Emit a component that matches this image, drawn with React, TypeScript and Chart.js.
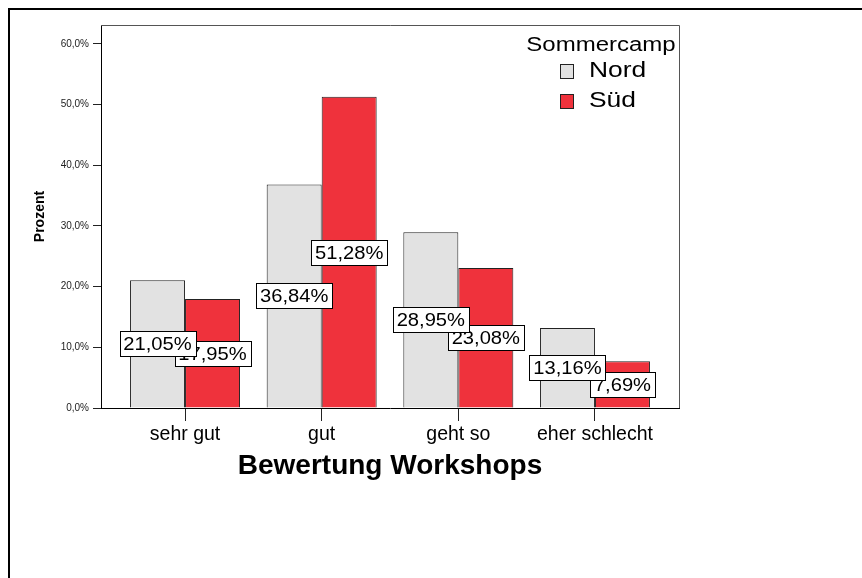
import React, { useEffect, useRef } from "react";
import { Chart, registerables } from "chart.js";

Chart.register(...registerables);

const categories = ["sehr gut", "gut", "geht so", "eher schlecht"];
const seriesNames = ["Nord", "Süd"];
const nordValues = [21.05, 36.84, 28.95, 13.16];
const suedValues = [17.95, 51.28, 23.08, 7.69];
const yTicks = [0, 10, 20, 30, 40, 50, 60];
const legendTitle = "Sommercamp";
const xTitle = "Bewertung Workshops";
const yTitle = "Prozent";

const FONT = '"Liberation Sans", Arial, Helvetica, sans-serif';
const NORD_FILL = "#e2e2e2";
const SUED_FILL = "#ef323c";
const W = 862;
const H = 578;

const fmt = (v: number, d: number) => v.toFixed(d).replace(".", ",") + "%";

const framePlugin = {
  id: "frame",
  beforeDraw(chart: any) {
    const { ctx } = chart;
    ctx.save();
    ctx.fillStyle = "#fff";
    ctx.fillRect(0, 0, chart.width, chart.height);
    ctx.strokeStyle = "#000";
    ctx.lineWidth = 2;
    ctx.beginPath();
    ctx.moveTo(9, chart.height + 10);
    ctx.lineTo(9, 9);
    ctx.lineTo(chart.width + 10, 9);
    ctx.stroke();
    ctx.restore();
  },
  afterDraw(chart: any) {
    const { ctx, chartArea } = chart;
    ctx.save();
    ctx.strokeStyle = "#555";
    ctx.lineWidth = 1;
    ctx.beginPath();
    ctx.moveTo(chartArea.left, Math.round(chartArea.top) + 0.5);
    ctx.lineTo(Math.round(chartArea.right) + 0.5, Math.round(chartArea.top) + 0.5);
    ctx.lineTo(Math.round(chartArea.right) + 0.5, chartArea.bottom);
    ctx.stroke();
    ctx.restore();
  },
};

const LABEL_SX = 1.12;
const labelPlugin = {
  id: "valueLabels",
  afterDatasetsDraw(chart: any) {
    const { ctx } = chart;
    ctx.save();
    ctx.font = `18px ${FONT}`;
    [1, 0].forEach((di) => {
      const meta = chart.getDatasetMeta(di);
      const ds = chart.data.datasets[di];
      meta.data.forEach((bar: any, i: number) => {
        const { x, y, base } = bar.getProps(["x", "y", "base"], true);
        const cy = (y + base) / 2;
        const text = fmt(ds.data[i].y, 2);
        const tw = ctx.measureText(text).width * LABEL_SX;
        const w = Math.round(tw + 8);
        const h = 25;
        const left = Math.round(x - w / 2);
        const top = Math.round(cy - h / 2);
        ctx.fillStyle = "#fff";
        ctx.fillRect(left, top, w, h);
        ctx.strokeStyle = "#000";
        ctx.lineWidth = 1;
        ctx.strokeRect(left + 0.5, top + 0.5, w, h);
        ctx.save();
        ctx.translate(x, cy + 1.5);
        ctx.scale(LABEL_SX, 1);
        ctx.textAlign = "center";
        ctx.textBaseline = "middle";
        ctx.fillStyle = "#000";
        ctx.fillText(text, 0, 0);
        ctx.restore();
      });
    });
    ctx.restore();
  },
};

const LEG_SX = 1.2;
const legendPlugin = {
  id: "customLegend",
  afterDraw(chart: any) {
    const { ctx } = chart;
    ctx.save();
    ctx.fillStyle = "#000";
    ctx.textBaseline = "middle";
    ctx.font = `20px ${FONT}`;
    ctx.save();
    ctx.translate(601, 45.5);
    ctx.scale(LEG_SX, 1);
    ctx.textAlign = "center";
    ctx.fillText(legendTitle, 0, 0);
    ctx.restore();
    ctx.font = `22px ${FONT}`;
    chart.data.datasets.forEach((ds: any, i: number) => {
      const cy = 71 + i * 29.5;
      ctx.fillStyle = ds.backgroundColor;
      ctx.fillRect(560, Math.round(cy - 7), 14, 15);
      ctx.strokeStyle = "#222";
      ctx.lineWidth = 1;
      ctx.strokeRect(560.5, Math.round(cy - 7) + 0.5, 13, 14);
      ctx.save();
      ctx.translate(589, cy);
      ctx.scale(LEG_SX, 1);
      ctx.textAlign = "left";
      ctx.fillStyle = "#000";
      ctx.fillText(ds.label, 0, 0);
      ctx.restore();
    });
    ctx.restore();
  },
};

export default function App() {
  const canvasRef = useRef<HTMLCanvasElement | null>(null);

  useEffect(() => {
    if (!canvasRef.current) return;
    const chart = new Chart(canvasRef.current, {
      type: "bar",
      data: {
        datasets: [
          {
            label: seriesNames[0],
            data: nordValues.map((v, i) => ({ x: i, y: v })),
            backgroundColor: NORD_FILL,
            borderColor: "#222",
            borderWidth: 1,
          },
          {
            label: seriesNames[1],
            data: suedValues.map((v, i) => ({ x: i, y: v })),
            backgroundColor: SUED_FILL,
            borderColor: "#222",
            borderWidth: 1,
          },
        ],
      } as any,
      options: {
        responsive: false,
        animation: false,
        devicePixelRatio: 1,
        layout: { padding: { left: 0, top: 25, right: 183, bottom: 0 } },
        datasets: { bar: { categoryPercentage: 0.805, barPercentage: 1 } } as any,
        plugins: {
          legend: { display: false },
          tooltip: { enabled: false },
        },
        scales: {
          x: {
            type: "linear",
            min: -0.615,
            max: 3.615,
            offset: false,
            grid: {
              offset: false,
              drawOnChartArea: false,
              drawTicks: true,
              tickLength: 13,
              color: "#222",
            },
            border: { display: true, color: "#000", width: 1 },
            ticks: {
              autoSkip: false,
              maxRotation: 0,
              padding: 2,
              color: "#000",
              font: { family: FONT, size: 19.5 },
              callback: (v: any) => categories[v] ?? "",
            },
            afterBuildTicks: (s: any) => {
              s.ticks = categories.map((_, i) => ({ value: i }));
            },
            afterFit: (s: any) => {
              s.height = 170;
            },
            title: {
              display: true,
              text: xTitle,
              color: "#000",
              font: { family: FONT, size: 28, weight: "bold" },
              padding: { top: 0, bottom: 94.5 },
            },
          } as any,
          y: {
            type: "linear",
            min: 0,
            max: 63.1,
            grid: {
              drawOnChartArea: false,
              drawTicks: true,
              tickLength: 8,
              color: "#222",
            },
            border: { display: true, color: "#000", width: 1 },
            ticks: {
              padding: 4,
              color: "#222",
              font: { family: FONT, size: 10 },
              callback: (v: any) => fmt(Number(v), 1),
            },
            afterBuildTicks: (s: any) => {
              s.ticks = yTicks.map((v) => ({ value: v }));
            },
            afterFit: (s: any) => {
              s.width = 101;
            },
            title: {
              display: true,
              text: yTitle,
              color: "#000",
              font: { family: FONT, size: 14, weight: "bold" },
              padding: { top: 31.5, bottom: 0 },
            },
          } as any,
        },
      },
      plugins: [framePlugin, labelPlugin, legendPlugin],
    });
    return () => chart.destroy();
  }, []);

  return (
    <div style={{ position: "absolute", left: 0, top: 0, width: W, height: H }}>
      <canvas ref={canvasRef} width={W} height={H} style={{ display: "block" }} />
    </div>
  );
}
